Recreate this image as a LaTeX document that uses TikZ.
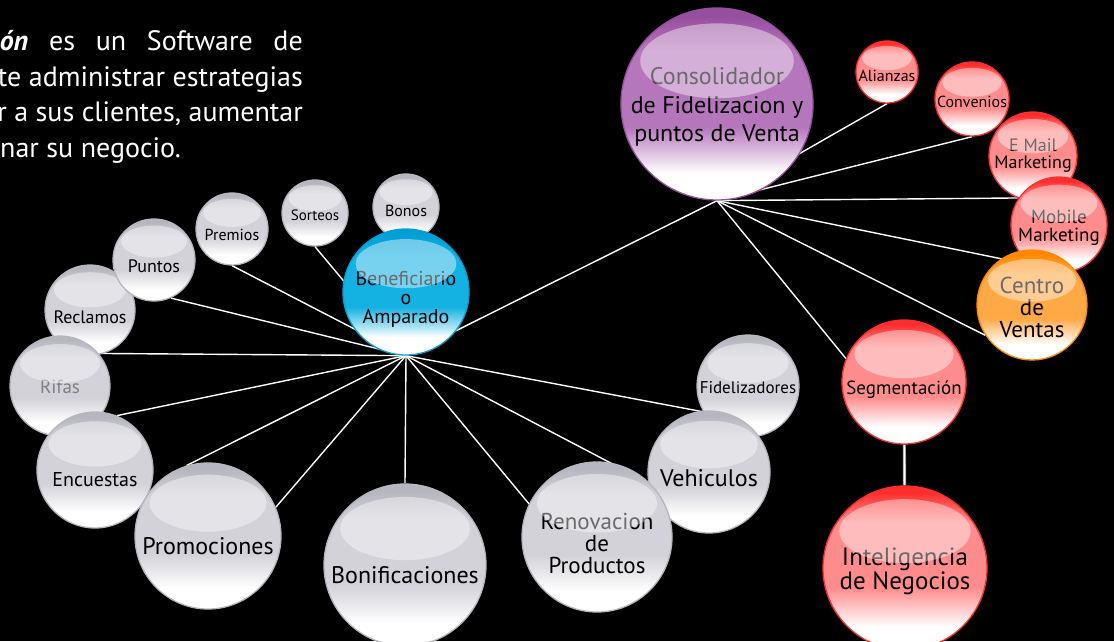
\documentclass[tikz,border=0pt]{standalone}
\usepackage{fontspec}
\setmainfont{PT Sans}
\usetikzlibrary{calc}

\definecolor{grisborde}{RGB}{182,182,190}
\definecolor{grismedio}{RGB}{210,210,216}
\definecolor{cianborde}{RGB}{0,160,214}
\definecolor{cianmedio}{RGB}{20,178,226}
\definecolor{moradoborde}{RGB}{150,78,158}
\definecolor{moradomedio}{RGB}{182,118,188}
\definecolor{rojoborde}{RGB}{255,45,45}
\definecolor{rojomedio}{RGB}{255,140,140}
\definecolor{naranjaborde}{RGB}{255,136,0}
\definecolor{naranjamedio}{RGB}{255,168,70}

\newcommand{\sombra}[1]{\pgfdeclareverticalshading{bola#1}{100bp}{color(0bp)=(white); color(32bp)=(white); color(44bp)=(#1medio); color(64bp)=(#1medio); color(73bp)=(#1borde); color(100bp)=(#1borde)}}
\sombra{gris}\sombra{cian}\sombra{morado}\sombra{rojo}\sombra{naranja}

\newcommand{\letra}[1]{\fontsize{#1}{\the\numexpr#1*19/20\relax}\selectfont}

\pgfdeclarelayer{fondo}
\pgfdeclarelayer{lineas}
\pgfsetlayers{fondo,lineas,main}

\tikzset{
  bola/.style={circle, inner sep=0pt, line width=1.3pt},
  gris/.style={shade, shading=bolagris, draw=grisborde},
  cian/.style={shade, shading=bolacian, draw=cianborde},
  morado/.style={shade, shading=bolamorado, draw=moradoborde},
  rojo/.style={shade, shading=bolarojo, draw=rojoborde},
  naranja/.style={shade, shading=bolanaranja, draw=naranjaborde},
  brillo/.style={fill=white, fill opacity=0.42},
  enlace/.style={draw=white, line width=1.4pt},
  enlace doble/.style={draw=gray!80, line width=0.8pt, double=white, double distance=1.6pt},
  parrafo/.style={text=white, inner sep=0pt, font=\letra{28}}
}

% [text shift]{name}{centre}{radius}{colour}{font size}{text}
\newcommand{\bola}[7][0.12]{%
  \node[bola, #5, minimum size=2*#4pt] (#2) at (#3) {};
  \node[font=\letra{#6}, align=center, inner sep=0pt] (#2-t) at ($(#2.center)+(0,#1*#4)$) {#7};
  \fill[brillo] ($(#2.center)+(0,-0.45*#4)$) ellipse ({0.8*#4pt} and {0.39*#4pt});
}

\begin{document}
\begin{tikzpicture}[x=1pt, y=-1pt]
  \begin{pgfonlayer}{fondo}
    \fill[black] (0,0) rectangle (1114,641);
  \end{pgfonlayer}
  \useasboundingbox (0,0) rectangle (1114,641);

  \node[parrafo, anchor=base east] (linea1) at (303,50) {\makebox[303pt][s]{\textbf{\textit{ón}} es un Software de}};
  \node[parrafo, anchor=base east] (linea2) at (303,86) {te administrar estrategias};
  \node[parrafo, anchor=base east] (linea3) at (303,121) {er a sus clientes, aumentar};
  \node[parrafo, anchor=base west] (linea4) at (0,157) {nar su negocio.};

  \bola{bonos}{406,207}{33}{gris}{16}{Bonos}
  \bola[0.11]{beneficiario}{406,292}{63}{cian}{20}{Beneficiario\\o\\Amparado}
  \bola[0.06]{sorteos}{315,213}{33}{gris}{15}{Sorteos}
  \bola[0.16]{premios}{232,229}{36}{gris}{16}{Premios}
  \bola[0.15]{reclamos}{90,310}{45}{gris}{18}{Reclamos}
  \bola[0.16]{puntos}{154,260}{41}{gris}{18}{Puntos}
  \bola[0.02]{rifas}{60,386}{50}{gris}{19}{\textcolor{black!50}{Rifas}}
  \bola[0.16]{encuestas}{95,470}{58}{gris}{20}{Encuestas}
  \bola[0.14]{promociones}{208,536}{73}{gris}{24}{Promociones}
  \bola{bonificaciones}{405,565}{81}{gris}{24}{Bonificaciones}
  \bola[0.04]{fidelizadores}{748,386}{51}{gris}{17}{Fidelizadores}
  \bola[0.1]{vehiculos}{709,472}{61}{gris}{24}{Vehiculos}
  \bola[0.08]{renovacion}{597,537}{75}{gris}{23}{Renovacion\\de\\Productos}

  \bola[0.03]{consolidador}{717,104}{96}{morado}{24}{Consolidador\\[6pt]de Fidelizacion y\\[5pt]puntos de Venta}
  \bola{alianzas}{887,72}{31}{rojo}{16}{Alianzas}
  \bola[0.08]{convenios}{972,99}{37}{rojo}{16}{Convenios}
  \bola[0]{email}{1033,156}{44}{rojo}{18}{E Mail\\Marketing}
  \bola[0.05]{mobile}{1059,225}{48}{rojo}{19}{Mobile\\Marketing}
  \bola[0.05]{centro}{1032,305}{55}{naranja}{23}{Centro\\de\\Ventas}
  \bola[0.13]{segmentacion}{904,382}{62}{rojo}{19}{Segmentación}
  \bola[0.04]{inteligencia}{905,568}{82}{rojo}{25}{Inteligencia\\de Negocios}

  \begin{pgfonlayer}{lineas}
    \foreach \dest in {sorteos.south, premios.south, puntos.-66, rifas.40, encuestas.68,
        promociones.107, promociones.23, bonificaciones.north, renovacion.154,
        vehiculos.190, fidelizadores.210, consolidador.south}
      \draw[enlace] (beneficiario.south) -- (\dest);
    \foreach \dest in {alianzas.south, convenios.south, email.250, mobile.235, centro.213, segmentacion.158}
      \draw[enlace] (consolidador.south) -- (\dest);
    \draw[enlace doble] (segmentacion) -- (inteligencia);
  \end{pgfonlayer}
\end{tikzpicture}
\end{document}
